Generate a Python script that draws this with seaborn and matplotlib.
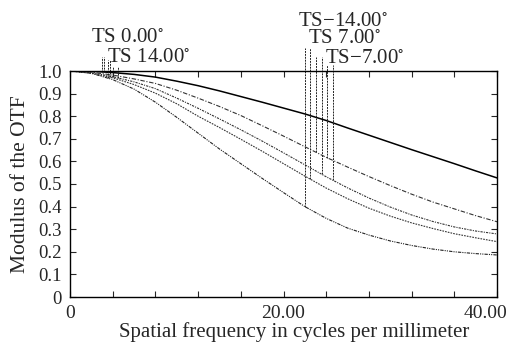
import numpy as np
import pandas as pd
import matplotlib
matplotlib.use("Agg")
import matplotlib.pyplot as plt
import matplotlib.transforms as mtransforms
import seaborn as sns

# ---- data ----
freq = [0, 2, 4, 6, 8, 10, 12, 14, 16, 18, 20, 22, 24, 26, 28, 30, 32, 34, 36, 38, 40]
mtf_ts0 = [1.0, 0.999, 0.993, 0.985, 0.973, 0.955, 0.935, 0.912, 0.887, 0.862, 0.836,
           0.81, 0.781, 0.748, 0.716, 0.684, 0.652, 0.621, 0.59, 0.558, 0.527]
mtf_ts7t = [1.0, 0.995, 0.982, 0.965, 0.945, 0.915, 0.88, 0.843, 0.803, 0.758, 0.712,
            0.665, 0.618, 0.575, 0.533, 0.493, 0.455, 0.42, 0.39, 0.36, 0.333]
mtf_ts7s = [1.0, 0.993, 0.975, 0.952, 0.922, 0.88, 0.835, 0.788, 0.74, 0.69, 0.638,
            0.585, 0.532, 0.483, 0.438, 0.398, 0.363, 0.334, 0.31, 0.292, 0.279]
mtf_ts14s = [1.0, 0.99, 0.97, 0.94, 0.902, 0.855, 0.8, 0.75, 0.698, 0.645, 0.59,
             0.535, 0.482, 0.435, 0.393, 0.358, 0.328, 0.303, 0.28, 0.262, 0.245]
mtf_ts14t = [1.0, 0.99, 0.962, 0.92, 0.862, 0.795, 0.725, 0.655, 0.59, 0.525, 0.462,
             0.40, 0.348, 0.305, 0.274, 0.248, 0.228, 0.212, 0.2, 0.192, 0.186]

curve_names = ["c1", "c2", "c3", "c4", "c5"]
curves = {"c1": mtf_ts0, "c2": mtf_ts7t, "c3": mtf_ts7s, "c4": mtf_ts14s, "c5": mtf_ts14t}

DEG = r"$^{\circ}$"
labels = ["TS 0.00" + DEG, "TS 14.00" + DEG, "TS\u221214.00" + DEG,
          "TS 7.00" + DEG, "TS\u22127.00" + DEG]

# leader lines: frequency where they start, the curve they start on, label level
leader_x = [3.0, 3.15, 3.6, 3.75, 4.0, 4.5, 22.0, 22.5, 23.0, 23.6, 24.1, 24.6]
leader_curve = ["c1", "c1", "c5", "c4", "c2", "c3", "c5", "c4", "c2", "c3", "c2", "c3"]
leader_top = [1.062, 1.062, 1.05, 1.05, 1.018, 1.018, 1.10, 1.10, 1.062, 1.062, 1.027, 1.027]

xticks = [0, 4, 8, 12, 16, 20, 24, 28, 32, 36, 40]
xticklabels = ["0", "", "", "", "", "20.00", "", "", "", "", "40.00"]
yticks = [0, 0.1, 0.2, 0.3, 0.4, 0.5, 0.6, 0.7, 0.8, 0.9, 1.0]
yticklabels = ["0", "0.1", "0.2", "0.3", "0.4", "0.5", "0.6", "0.7", "0.8", "0.9", "1.0"]

# ---- styling ----
sns.set_style("ticks")
plt.rcParams["font.family"] = ["Liberation Serif", "DejaVu Serif"]
plt.rcParams["mathtext.fontset"] = "stix"

fig = plt.figure(figsize=(5.10, 3.44), dpi=100)
ax = fig.add_axes([70 / 510, 1 - 297 / 344, 427 / 510, 226 / 344])

styles = {
    "c1": dict(color="black", linewidth=1.1, linestyle="-"),
    "c2": dict(color="#333333", linewidth=0.8, linestyle=(0, (4, 1.5, 1, 1.5))),
    "c3": dict(color="#333333", linewidth=0.8, linestyle=(0, (2, 1, 1, 1))),
    "c4": dict(color="#333333", linewidth=0.8, linestyle=(0, (1.5, 1))),
    "c5": dict(color="#222222", linewidth=0.8, linestyle=(0, (3, 1, 1, 1, 1, 1))),
}

df = pd.DataFrame({"freq": np.tile(freq, len(curve_names)),
                   "mtf": np.concatenate([curves[c] for c in curve_names]),
                   "curve": np.repeat(curve_names, len(freq))})
for c in curve_names:
    sns.lineplot(data=df[df.curve == c], x="freq", y="mtf", ax=ax, legend=False, **styles[c])

for lx, lc, lt in zip(leader_x, leader_curve, leader_top):
    yb = float(np.interp(lx, freq, curves[lc]))
    ax.plot([lx, lx], [yb, lt], color="#222222", linewidth=0.7,
            linestyle=(0, (2, 1)), clip_on=False)

# labels (positions in data units)
label_pos = [(2.0, 1.128), (3.45, 1.04), (21.35, 1.198), (22.3, 1.122), (23.9, 1.035)]
for t, (lx, ly) in zip(labels, label_pos):
    ax.text(lx, ly, t, fontsize=15, ha="left", va="baseline", clip_on=False)

ax.set_xlim(0, 40)
ax.set_ylim(0, 1.0)
ax.set_xticks(xticks)
ax.set_xticklabels(xticklabels, fontsize=14)
ax.set_yticks(yticks)
ax.set_yticklabels(yticklabels, fontsize=13.5)
ax.tick_params(axis="x", direction="in", length=4, width=0.8, top=True, pad=6)
ax.tick_params(axis="y", direction="in", length=4, width=0.8, right=True, pad=6)
# last x tick label sits left of its tick, as in the reference
last = ax.get_xticklabels()[-1]
last.set_transform(last.get_transform() +
                   mtransforms.ScaledTranslation(-12 / 100, 0, fig.dpi_scale_trans))
for s in ax.spines.values():
    s.set_linewidth(1.0)
    s.set_color("black")
ax.set_xlabel("Spatial frequency in cycles per millimeter", fontsize=15, labelpad=0)
ax.xaxis.label.set_x(0.525)
ax.set_ylabel("Modulus of the OTF", fontsize=15.5, labelpad=6)

fig.savefig("out.png", dpi=100)
